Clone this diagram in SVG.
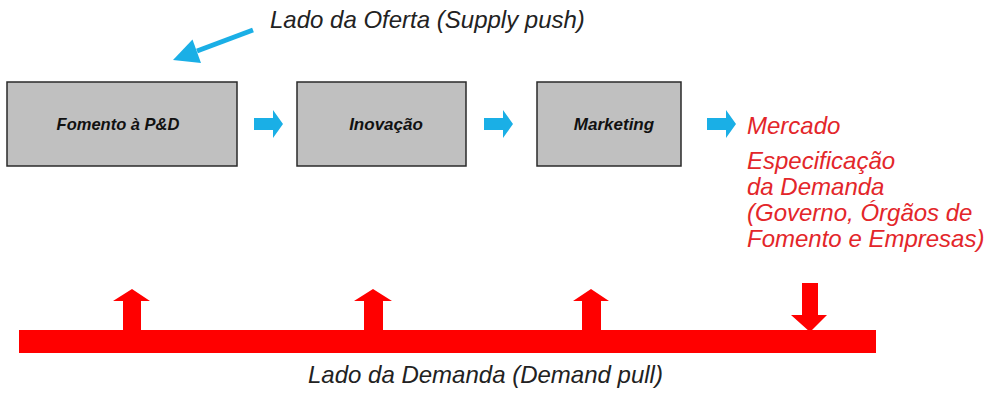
<svg xmlns="http://www.w3.org/2000/svg" width="996" height="414" viewBox="0 0 996 414">
<style>
.box{fill:#c0c0c0;stroke:#2a2a2a;stroke-width:1.5}
.lbl{font-family:"Liberation Sans",Arial,sans-serif;font-size:17px;font-weight:bold;font-style:italic;fill:#111;text-anchor:middle}
.cap{font-family:"Liberation Sans",Arial,sans-serif;font-size:24px;font-style:italic;fill:#222}
.red{font-family:"Liberation Sans",Arial,sans-serif;font-size:24px;font-style:italic;fill:#e3262a}
.blue{fill:#1aafe6}
.rf{fill:#ff0000}
</style>
<rect width="996" height="414" fill="#ffffff"/>
<text class="cap" x="270" y="28">Lado da Oferta (Supply push)</text>
<g id="node-fomento">
<rect class="box" x="7" y="82" width="230" height="84"/>
<text class="lbl" x="118" y="130" style="font-size:16.5px">Fomento à P&amp;D</text>
</g>
<g id="node-inovacao">
<rect class="box" x="297" y="82" width="169" height="84"/>
<text class="lbl" x="386" y="130">Inovação</text>
</g>
<g id="node-marketing">
<rect class="box" x="537" y="82" width="144" height="84"/>
<text class="lbl" x="614" y="130">Marketing</text>
</g>
<g id="node-mercado">
<text class="red" x="747" y="134">Mercado</text>
</g>
<g id="node-especificacao">
<text class="red" x="747" y="169">Especificação</text>
<text class="red" x="747" y="195">da Demanda</text>
<text class="red" x="747" y="221">(Governo, Órgãos de</text>
<text class="red" x="747" y="247">Fomento e Empresas)</text>
</g>
<g id="node-demanda">
<rect class="rf" x="19" y="330" width="857" height="23"/>
<text class="cap" x="308" y="383">Lado da Demanda (Demand pull)</text>
</g>
<g id="connectors">
<line x1="253" y1="30" x2="197" y2="51" stroke="#1aafe6" stroke-width="5"/>
<polygon class="blue" points="173,60 192.5,39.5 201,63"/>
<polygon class="blue" points="254,118 273,118 273,110 283,124 273,138 273,130 254,130"/>
<polygon class="blue" points="484,118 503,118 503,110 513,124 503,138 503,130 484,130"/>
<polygon class="blue" points="707,118 726,118 726,110 736,124 726,138 726,130 707,130"/>
<polygon class="rf" points="123,331 123,301 113,301 132,289 150,301 141,301 141,331"/>
<polygon class="rf" points="364,331 364,301 354,301 373,289 392,301 383,301 383,331"/>
<polygon class="rf" points="582,331 582,301 573,301 591,289 609,301 601,301 601,331"/>
<polygon class="rf" points="802,283 818,283 818,315 827,315 810,332 791,315 802,315"/>
</g>
</svg>
